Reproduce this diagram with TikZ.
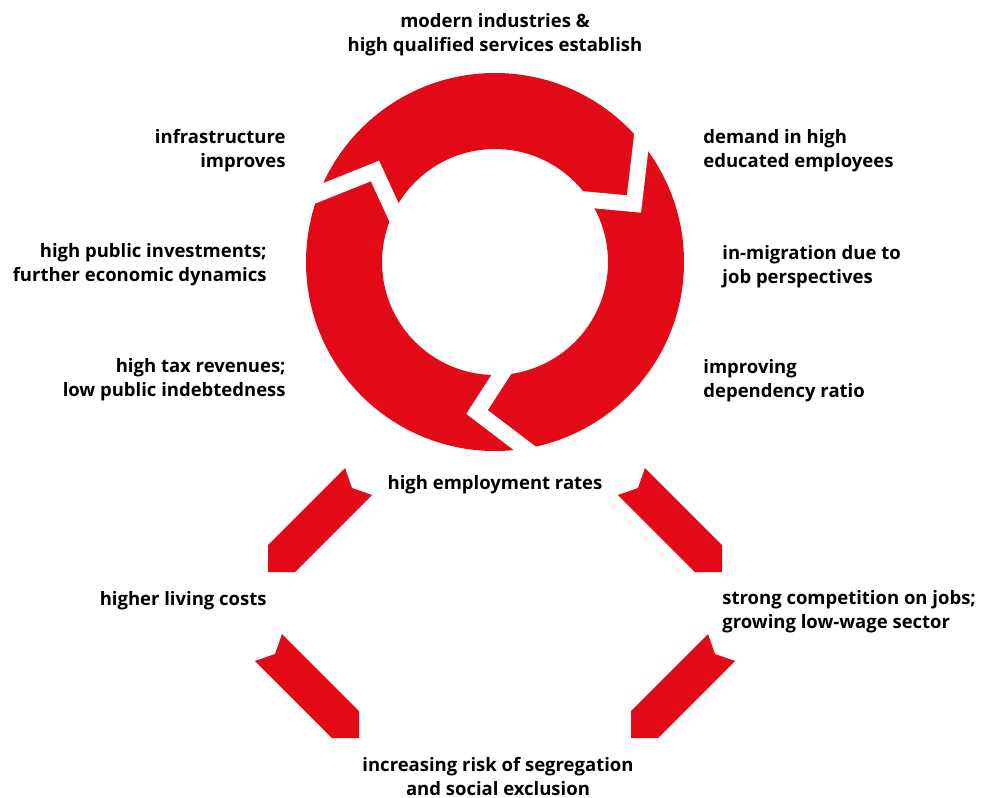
\documentclass[tikz,border=0pt]{standalone}
\usepackage{fontspec}
\setmainfont{Open Sans}
\definecolor{cyclered}{RGB}{227,10,23}
\tikzset{
	pics/chevron/.style={
		code = {
			\fill[cyclered] (0, 0) -- (27, 0) -- (104, -77) -- (84, -84) -- (77, -104) -- (0, -27) -- cycle;
		}
	},
	lbl/.style={font=\bfseries\fontsize{9.25}{12}\selectfont, inner sep=0pt}
}

\begin{document}
\begin{tikzpicture}[x=0.5pt, y=-0.5pt]
	\useasboundingbox (0, 0) rectangle (986, 798);

	% --- ring ---
	\fill[cyclered, even odd rule] (495, 262) circle[radius=189] (495, 262) circle[radius=113];
	\draw[white, line width=8pt] (290, 205) -- (375, 171) -- (403, 232);
	\draw[white, line width=8pt] (645, 110) -- (634, 204) -- (570, 198);
	\draw[white, line width=8pt] (512, 358) -- (477, 412) -- (548, 466);

	% --- labels round the ring ---
	\node[lbl, align=center] (modern) at (495, 34.5) {modern industries \&\\high qualified services establish};
	\node[lbl, align=right, anchor=east] (infra) at (286, 151) {infrastructure\\improves};
	\node[lbl, align=right, anchor=east] (invest) at (267, 265) {high public investments;\\further economic dynamics};
	\node[lbl, align=right, anchor=east] (tax) at (286, 380) {high tax revenues;\\low public indebtedness};
	\node[lbl, align=left, anchor=west] (demand) at (703, 151) {demand in high\\educated employees};
	\node[lbl, align=left, anchor=west] (migration) at (722, 266.5) {in-migration due to\\job perspectives};
	\node[lbl, align=left, anchor=west] (dependency) at (703, 381) {improving\\dependency ratio};

	% --- lower cycle ---
	\node[lbl] (employment) at (495, 484.5) {high employment rates};
	\node[lbl, anchor=east] (living) at (267, 600.5) {higher living costs};
	\node[lbl, align=left, anchor=west] (competition) at (722, 612) {strong competition on jobs;\\growing low-wage sector};
	\node[lbl, align=center] (segregation) at (498, 776.5) {increasing risk of segregation\\and social exclusion};

	\pic at (268, 572) {chevron};
	\pic[xscale=-1] at (722, 572) {chevron};
	\pic[xscale=-1] at (359, 738) {chevron};
	\pic at (631, 738) {chevron};

\end{tikzpicture}
\end{document}
